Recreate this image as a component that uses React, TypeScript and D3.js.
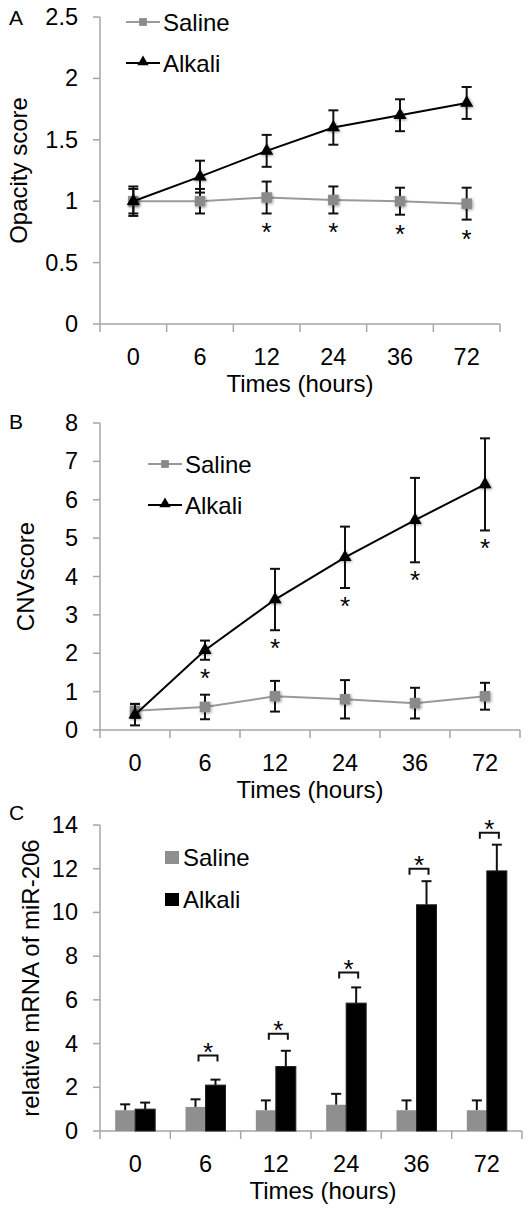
import React from 'react';
import * as d3 from 'd3';

// time points (hours)
const times = ['0', '6', '12', '24', '36', '72'];

// A: opacity score
const opacitySaline = [1.0, 1.0, 1.03, 1.01, 1.0, 0.98];
const opacitySalineErr = [0.1, 0.1, 0.13, 0.11, 0.11, 0.13];
const opacityAlkali = [1.0, 1.2, 1.41, 1.6, 1.7, 1.8];
const opacityAlkaliErr = [0.12, 0.13, 0.13, 0.14, 0.13, 0.13];
const opacityStars = [false, false, true, true, true, true];
const opacityTicks = [0, 0.5, 1, 1.5, 2, 2.5];

// B: CNV score
const cnvSaline = [0.5, 0.6, 0.88, 0.8, 0.7, 0.88];
const cnvSalineErr = [0.18, 0.32, 0.4, 0.5, 0.4, 0.35];
const cnvAlkali = [0.4, 2.08, 3.4, 4.5, 5.47, 6.4];
const cnvAlkaliErr = [0.28, 0.25, 0.8, 0.8, 1.1, 1.2];
const cnvStars = [false, true, true, true, true, true];
const cnvTicks = [0, 1, 2, 3, 4, 5, 6, 7, 8];

// C: relative mRNA of miR-206
const mirSaline = [0.95, 1.1, 0.95, 1.2, 0.95, 0.95];
const mirSalineErr = [0.27, 0.35, 0.45, 0.5, 0.45, 0.45];
const mirAlkali = [1.0, 2.1, 2.95, 5.85, 10.35, 11.9];
const mirAlkaliErr = [0.3, 0.25, 0.72, 0.72, 1.08, 1.2];
const mirBracket = [null, 3.45, 4.45, 7.25, 12.0, 13.65];
const mirTicks = [0, 2, 4, 6, 8, 10, 12, 14];

const FONT = 'Liberation Sans, Arial, Helvetica, sans-serif';
const AXIS = '#a6a6a6';
const GREY_LINE = '#9a9a9a';
const GREY_MARK = '#8a8a8a';
const GREY_BAR = '#8f8f8f';

type AxisProps = {
  x: d3.ScaleBand<string>;
  y: d3.ScaleLinear<number, number>;
  ticks: number[];
  yTitle: string;
  yTitleX: number;
  letter: string;
  letterY: number;
  titleShift?: number;
};

function Axes({ x, y, ticks, yTitle, yTitleX, letter, letterY, titleShift = 0 }: AxisProps) {
  const [x0, x1] = x.range();
  const y0 = y(0);
  const top = y(ticks[ticks.length - 1]);
  const bounds = d3.range(times.length + 1).map(i => x0 + i * x.step());
  const yMid = (y0 + top) / 2;
  return (
    <g fontFamily={FONT}>
      <text x={9} y={letterY} fontSize={21}>{letter}</text>
      <line x1={x0} x2={x0} y1={top} y2={y0} stroke={AXIS} strokeWidth={1.5} />
      {ticks.map(t => (
        <g key={t}>
          <line x1={x0 - 7} x2={x0} y1={y(t)} y2={y(t)} stroke={AXIS} strokeWidth={1.5} />
          <text x={x0 - 22} y={y(t) + 8} textAnchor="end" fontSize={23.5}>{t}</text>
        </g>
      ))}
      <line x1={x0} x2={x1} y1={y0} y2={y0} stroke={AXIS} strokeWidth={1.5} />
      {bounds.map((b, i) => (
        <line key={i} x1={b} x2={b} y1={y0} y2={y0 + 8} stroke={AXIS} strokeWidth={1.5} />
      ))}
      {times.map(t => (
        <text key={t} x={(x(t) as number) + x.bandwidth() / 2} y={y0 + 41} textAnchor="middle" fontSize={23.5}>{t}</text>
      ))}
      <text x={(x0 + x1) / 2 + titleShift} y={y0 + 68} textAnchor="middle" fontSize={24}>Times (hours)</text>
      <text transform={`translate(${yTitleX},${yMid}) rotate(-90)`} textAnchor="middle" dominantBaseline="central" fontSize={24}>{yTitle}</text>
    </g>
  );
}

type LineProps = {
  top: number; bottom: number; right: number; max: number; ticks: number[];
  saline: number[]; salineErr: number[]; alkali: number[]; alkaliErr: number[]; stars: boolean[];
  starUnder: 'saline' | 'alkali';
  yTitle: string; yTitleX: number; letter: string; letterY: number;
  legendX: number; legendY: number; legendGap: number; starGap: number;
};

function LinePanel(p: LineProps) {
  const x = d3.scaleBand<string>().domain(times).range([100, p.right]);
  const y = d3.scaleLinear().domain([0, p.max]).range([p.bottom, p.top]);
  const cx = (i: number) => (x(times[i]) as number) + x.bandwidth() / 2;
  const line = d3.line<number>().x((_, i) => cx(i)).y(d => y(d));
  const square = d3.symbol(d3.symbolSquare, 110)();
  const tri = d3.symbol(d3.symbolTriangle, 75)();
  const smallSquare = d3.symbol(d3.symbolSquare, 60)();
  const smallTri = d3.symbol(d3.symbolTriangle, 55)();
  const errs = (vals: number[], err: number[], key: string) => vals.map((v, i) => {
    const hi = y(v + err[i]);
    const lo = y(v - err[i]);
    return (
      <g key={key + i} stroke="#111" strokeWidth={2}>
        <line x1={cx(i)} x2={cx(i)} y1={hi} y2={lo} />
        <line x1={cx(i) - 5} x2={cx(i) + 5} y1={hi} y2={hi} />
        <line x1={cx(i) - 5} x2={cx(i) + 5} y1={lo} y2={lo} />
      </g>
    );
  });
  const sv = p.starUnder === 'saline' ? p.saline : p.alkali;
  const se = p.starUnder === 'saline' ? p.salineErr : p.alkaliErr;
  return (
    <g>
      <Axes x={x} y={y} ticks={p.ticks} yTitle={p.yTitle} yTitleX={p.yTitleX} letter={p.letter} letterY={p.letterY} />
      <path d={line(p.saline) as string} fill="none" stroke={GREY_LINE} strokeWidth={2} />
      {errs(p.saline, p.salineErr, 's')}
      {p.saline.map((v, i) => (
        <path key={'sm' + i} d={square as string} transform={`translate(${cx(i)},${y(v)})`} fill={GREY_MARK} filter="url(#soft)" />
      ))}
      <path d={line(p.alkali) as string} fill="none" stroke="#000" strokeWidth={2} />
      {errs(p.alkali, p.alkaliErr, 'a')}
      {p.alkali.map((v, i) => (
        <path key={'am' + i} d={tri as string} transform={`translate(${cx(i)},${y(v)})`} fill="#000" filter="url(#soft)" />
      ))}
      {p.stars.map((s, i) => s ? (
        <text key={'st' + i} x={cx(i)} y={y(sv[i] - se[i]) + p.starGap + 15} textAnchor="middle" fontSize={26} fontFamily={FONT}>*</text>
      ) : null)}
      <g fontFamily={FONT} fontSize={24}>
        <line x1={p.legendX} x2={p.legendX + 34} y1={p.legendY} y2={p.legendY} stroke={GREY_LINE} strokeWidth={2} />
        <path d={smallSquare as string} transform={`translate(${p.legendX + 17},${p.legendY})`} fill={GREY_MARK} />
        <text x={p.legendX + 37} y={p.legendY + 9}>Saline</text>
        <line x1={p.legendX} x2={p.legendX + 34} y1={p.legendY + p.legendGap} y2={p.legendY + p.legendGap} stroke="#000" strokeWidth={2} />
        <path d={smallTri as string} transform={`translate(${p.legendX + 17},${p.legendY + p.legendGap - 1})`} fill="#000" />
        <text x={p.legendX + 37} y={p.legendY + p.legendGap + 9}>Alkali</text>
      </g>
    </g>
  );
}

function BarPanel() {
  const x = d3.scaleBand<string>().domain(times).range([100, 522]);
  const y = d3.scaleLinear().domain([0, 14]).range([1131, 825]);
  const bw = 20;
  const cx = (i: number) => (x(times[i]) as number) + x.bandwidth() / 2;
  const errUp = (xc: number, v: number, e: number, key: string) => (
    <g key={key} stroke="#111" strokeWidth={2}>
      <line x1={xc} x2={xc} y1={y(v)} y2={y(v + e)} />
      <line x1={xc - 5} x2={xc + 5} y1={y(v + e)} y2={y(v + e)} />
    </g>
  );
  return (
    <g>
      <Axes x={x} y={y} ticks={mirTicks} yTitle="relative mRNA of miR-206" yTitleX={30} letter="C" letterY={820} titleShift={12} />
      {mirSaline.map((v, i) => errUp(cx(i) - bw / 2, v, mirSalineErr[i], 'se' + i))}
      {mirAlkali.map((v, i) => errUp(cx(i) + bw / 2, v, mirAlkaliErr[i], 'ae' + i))}
      {mirSaline.map((v, i) => (
        <rect key={'sb' + i} x={cx(i) - bw} y={y(v)} width={bw} height={y(0) - y(v)} fill={GREY_BAR} />
      ))}
      {mirAlkali.map((v, i) => (
        <rect key={'ab' + i} x={cx(i)} y={y(v)} width={bw} height={y(0) - y(v)} fill="#000" stroke="#222" strokeWidth={1} />
      ))}
      {mirBracket.map((b, i) => {
        if (b == null) return null;
        const yb = y(b);
        const l = cx(i) - 7;
        const r = cx(i) + 12;
        return (
          <g key={'br' + i}>
            <path d={`M${l},${yb + 6}V${yb}H${r}V${yb + 6}`} fill="none" stroke="#111" strokeWidth={2} />
            <text x={(l + r) / 2} y={yb + 5} textAnchor="middle" fontSize={26} fontFamily={FONT}>*</text>
          </g>
        );
      })}
      <g fontFamily={FONT} fontSize={24}>
        <rect x={165} y={851} width={14} height={13} fill={GREY_BAR} />
        <text x={183} y={866}>Saline</text>
        <rect x={165} y={893} width={14} height={13} fill="#000" />
        <text x={183} y={908}>Alkali</text>
      </g>
    </g>
  );
}

export default function App() {
  return (
    <div style={{ position: 'absolute', left: 0, top: 0 }}>
      <svg width={532} height={1209} style={{ display: 'block', background: '#fff' }}>
        <defs>
          <filter id="soft" x="-50%" y="-50%" width="200%" height="200%">
            <feGaussianBlur in="SourceAlpha" stdDeviation="1.5" result="b" />
            <feOffset dx="1" dy="1" result="o" />
            <feComponentTransfer in="o" result="s"><feFuncA type="linear" slope="0.4" /></feComponentTransfer>
            <feMerge><feMergeNode in="s" /><feMergeNode in="SourceGraphic" /></feMerge>
          </filter>
        </defs>
        <LinePanel top={17} bottom={324} right={500} max={2.5} ticks={opacityTicks}
          saline={opacitySaline} salineErr={opacitySalineErr} alkali={opacityAlkali} alkaliErr={opacityAlkaliErr}
          stars={opacityStars} starUnder="saline" yTitle="Opacity score" yTitleX={18} letter="A" letterY={25}
          legendX={126} legendY={22} legendGap={41} starGap={13} />
        <LinePanel top={423} bottom={730} right={520} max={8} ticks={cnvTicks}
          saline={cnvSaline} salineErr={cnvSalineErr} alkali={cnvAlkali} alkaliErr={cnvAlkaliErr}
          stars={cnvStars} starUnder="alkali" yTitle="CNVscore" yTitleX={25} letter="B" letterY={429}
          legendX={148} legendY={464} legendGap={41} starGap={12} />
        <BarPanel />
      </svg>
    </div>
  );
}
